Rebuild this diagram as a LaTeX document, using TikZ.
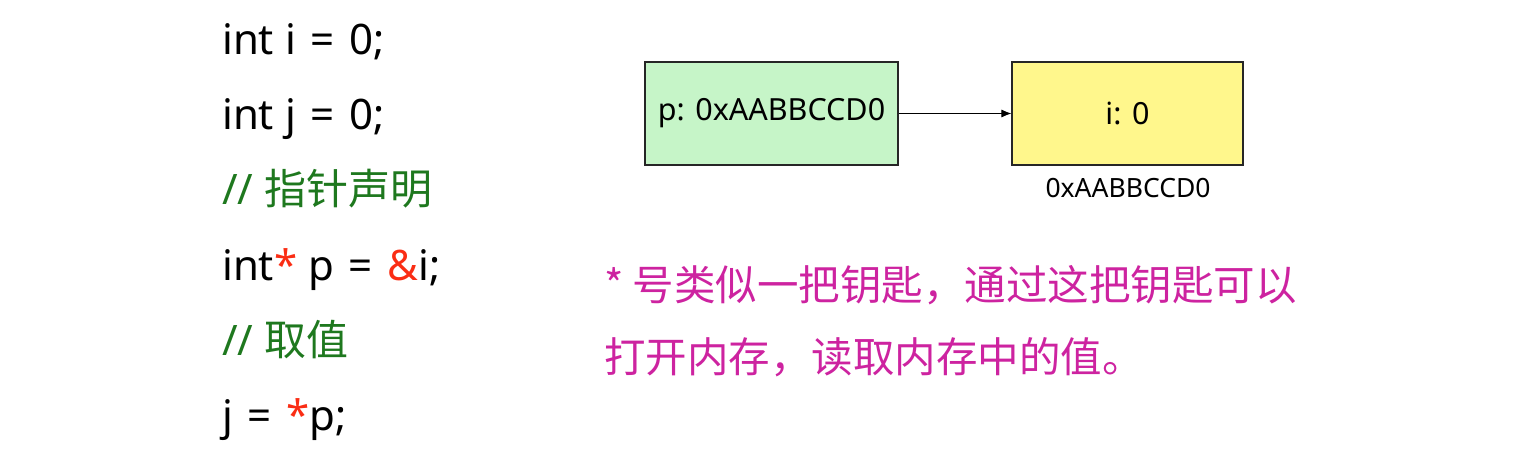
\documentclass[tikz,border=0pt]{standalone}
\usepackage{fontspec}
\setmainfont{Noto Sans}
\newfontfamily\cjk{Noto Sans CJK SC}
\usetikzlibrary{arrows.meta}
\definecolor{cmtgreen}{RGB}{30,120,30}
\definecolor{kred}{RGB}{250,45,20}
\definecolor{pinkt}{RGB}{205,35,160}
\definecolor{boxgreen}{RGB}{198,245,200}
\definecolor{boxyellow}{RGB}{255,247,140}
\newcommand{\eqs}{\hspace{0.35em}=\hspace{0.35em}}
\tikzset{
  code/.style={anchor=base west, inner sep=0pt, font=\fontsize{42}{48}\selectfont},
  cmt/.style={code, text=cmtgreen},
  mem/.style={draw=black!85, line width=1.1pt, minimum width=253pt, minimum height=103pt, inner sep=0pt, font=\fontsize{30.5}{36}\selectfont},
  note/.style={anchor=base west, inner sep=0pt, text=pinkt, font=\cjk\fontsize{41.5}{46}\selectfont},
}
\begin{document}
\begin{tikzpicture}[x=1pt,y=-1pt]
\useasboundingbox (0,0) rectangle (1531,457);
\node[code] (l1) at (222,55) {int i\eqs0;};
\node[code] (l2) at (222,130) {int j\eqs0;};
\node[cmt] (l3) at (222,205) {// {\cjk 指针声明}};
\node[code] (l4) at (222,280) {int\textcolor{kred}{*} p\eqs\textcolor{kred}{\&}i;};
\node[cmt] (l5) at (222,355) {// {\cjk 取值}};
\node[code] (l6) at (222,430) {j\eqs\textcolor{kred}{*}p;};
\node[mem, fill=boxgreen] (p) at (771.5,113.5) {p: 0xAABBCCD0};
\node[mem, fill=boxyellow, minimum width=231pt] (i) at (1127.5,113.5) {i: 0};
\node[font=\fontsize{26.5}{30}\selectfont, inner sep=0pt] (addr) at (1128,188) {0xAABBCCD0};
\draw[-{Latex[length=10pt,width=8pt]}, line width=1pt] (p.east) -- (i.west);
\node[note] (n1) at (604,300) {* 号类似一把钥匙，通过这把钥匙可以};
\node[note] (n2) at (604,372) {打开内存，读取内存中的值。};
\end{tikzpicture}
\end{document}
